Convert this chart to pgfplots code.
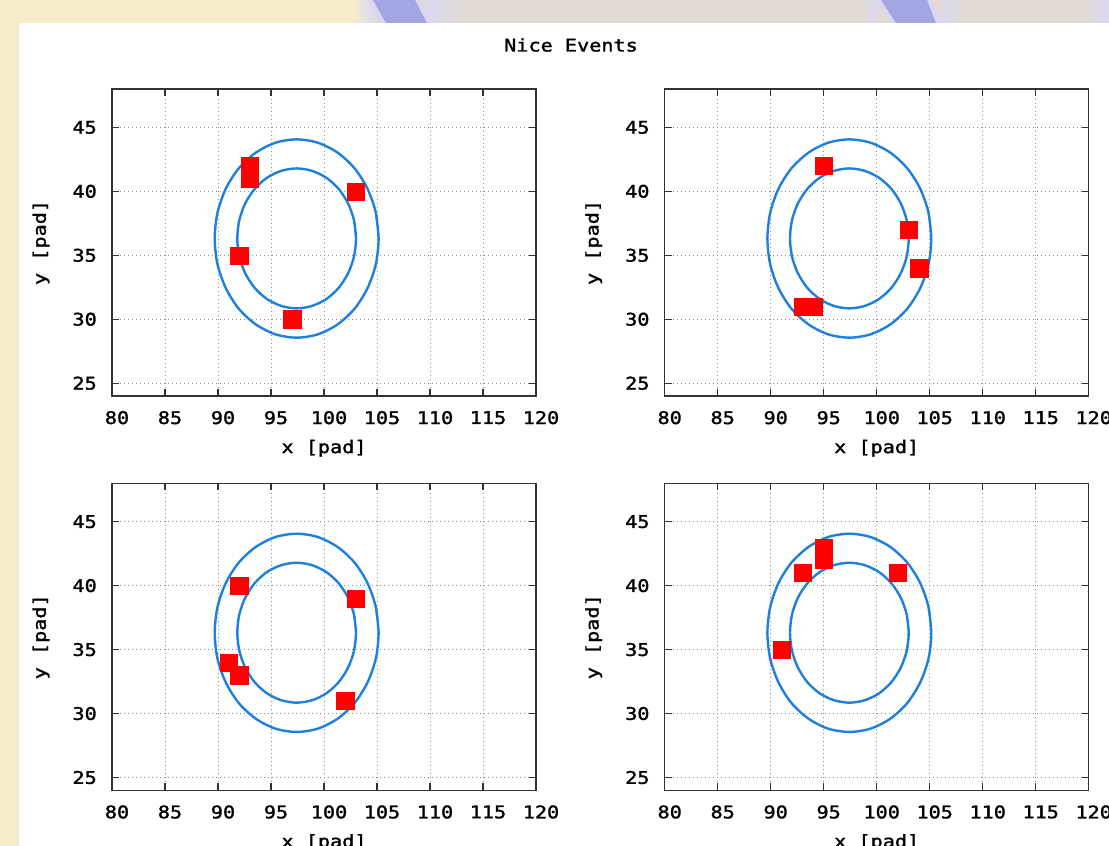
\documentclass[border=0pt]{standalone}
\usepackage{pgfplots}
\pgfplotsset{compat=1.18}
\usepackage{pgfplotstable}
\usepackage{fontspec}
\newfontfamily\gpfont[FakeStretch=1.16, FakeBold=1.6]{DejaVu Sans Mono}
\newcommand\gp{\gpfont\fontsize{17.4pt}{20pt}\selectfont}
\definecolor{bgbeige}{RGB}{246,236,203}
\definecolor{bggray}{RGB}{226,219,212}
\definecolor{bgblue}{RGB}{164,166,228}
\definecolor{bglav}{RGB}{218,216,240}
\definecolor{ellblue}{RGB}{30,128,220}

\pgfplotstableread{
x y
105.15 36.31
104.89 38.32
104.11 40.19
102.89 41.79
101.29 43.02
99.42 43.80
97.42 44.06
95.42 43.80
93.56 43.02
91.95 41.79
90.73 40.19
89.95 38.32
89.69 36.31
89.95 34.30
90.73 32.44
91.95 30.83
93.56 29.60
95.42 28.82
97.42 28.56
99.42 28.82
101.29 29.60
102.89 30.83
104.11 32.44
104.89 34.30
105.15 36.31
104.89 38.32
}\outerell

\pgfplotstableread{
x y
103.02 36.32
102.83 37.74
102.27 39.06
101.38 40.19
100.22 41.06
98.87 41.60
97.42 41.79
95.97 41.60
94.62 41.06
93.46 40.19
92.57 39.06
92.01 37.74
91.82 36.32
92.01 34.90
92.57 33.59
93.46 32.45
94.62 31.58
95.97 31.04
97.42 30.85
98.87 31.04
100.22 31.58
101.38 32.45
102.27 33.59
102.83 34.90
103.02 36.32
102.83 37.74
}\innerell

\pgfplotsset{gpaxis/.style={
  scale only axis, width=424pt, height=307pt,
  anchor=north west,
  xmin=80, xmax=120, ymin=24, ymax=48,
  xtick={80,85,...,120}, ytick={25,30,...,45},
  grid=major,
  major grid style={draw=black!45, line width=0.8pt, dash pattern=on 1pt off 3pt},
  tick align=inside, tick pos=both, major tick length=7pt,
  axis line style={line width=1.3pt, draw=black!80},
  tick style={line width=1.2pt, draw=black!80},
  ticklabel style={font=\gp, inner sep=0pt},
  /pgf/number format/assume math mode=true,
  xticklabel style={anchor=center, yshift=-21.7pt, xshift=5pt},
  yticklabel style={anchor=east, xshift=-15pt},
  every axis x label/.style={at={(axis description cs:0.5,-0.1704)}, anchor=center, font=\gp, inner sep=0pt},
  every axis y label/.style={at={(axis description cs:-0.1675,0.5)}, rotate=90, anchor=center, font=\gp, inner sep=0pt},
  xlabel={x [pad]}, ylabel={y [pad]},
}}
\pgfplotsset{ringline/.style={color=ellblue, line width=2.4pt, smooth, mark=none},
  pads/.style={only marks, mark=square*, mark size=8.6pt, mark options={fill=red, draw=red, line width=0.3pt}}}

\begin{document}
\begin{tikzpicture}
\useasboundingbox (0pt,0pt) rectangle (1109pt,846pt);
\fill[white] (0pt,0pt) rectangle (1109pt,846pt);
\fill[bgbeige] (0pt,0pt) rectangle (19pt,846pt);
\fill[bgbeige] (0pt,823pt) rectangle (352pt,846pt);
\shade[left color=bgbeige, right color=bglav] (352pt,823pt) rectangle (374pt,846pt);
\fill[bggray] (374pt,823pt) rectangle (1109pt,846pt);
\shade[left color=bglav, right color=bggray] (425pt,823pt) rectangle (470pt,846pt);
\fill[bglav] (368pt,846pt) -- (420pt,846pt) -- (432pt,823pt) -- (380pt,823pt) -- cycle;
\fill[bgblue] (373pt,846pt) -- (415pt,846pt) -- (427pt,823pt) -- (386pt,823pt) -- cycle;
\shade[left color=bggray, right color=bglav] (860pt,823pt) rectangle (878pt,846pt);
\fill[bglav] (876pt,846pt) -- (932pt,846pt) -- (942pt,823pt) -- (890pt,823pt) -- cycle;
\fill[bgblue] (881pt,846pt) -- (927pt,846pt) -- (936pt,823pt) -- (896pt,823pt) -- cycle;
\shade[left color=bglav, right color=bggray] (942pt,823pt) rectangle (965pt,846pt);
\shade[left color=bggray, right color=bglav] (1080pt,823pt) rectangle (1109pt,846pt);

\node[font=\gp, anchor=center] at (571pt,801pt) {Nice Events};

% top left
\begin{axis}[gpaxis, at={(112pt,757pt)}]
\addplot[ringline] table {\outerell};
\addplot[ringline] table {\innerell};
\addplot[pads] coordinates {(92,35) (93,42) (93,41) (103,40) (97,30)};
\end{axis}
% top right
\begin{axis}[gpaxis, at={(664.7pt,757pt)}]
\addplot[ringline] table {\outerell};
\addplot[ringline] table {\innerell};
\addplot[pads] coordinates {(95,42) (103,37) (104,34) (93,31) (94,31)};
\end{axis}
% bottom left
\begin{axis}[gpaxis, at={(112pt,362.7pt)}]
\addplot[ringline] table {\outerell};
\addplot[ringline] table {\innerell};
\addplot[pads] coordinates {(92,40) (103,39) (91,34) (92,33) (102,31)};
\end{axis}
% bottom right
\begin{axis}[gpaxis, at={(664.7pt,362.7pt)}]
\addplot[ringline] table {\outerell};
\addplot[ringline] table {\innerell};
\addplot[pads] coordinates {(91,35) (93,41) (95,43) (95,42) (102,41)};
\end{axis}
\end{tikzpicture}
\end{document}
